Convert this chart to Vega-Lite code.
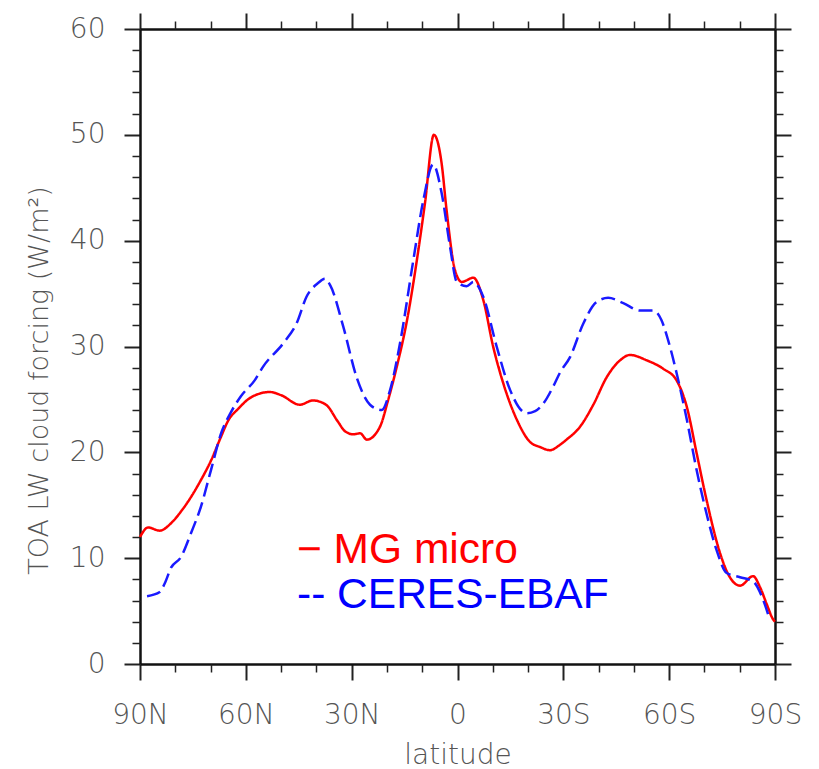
{
  "$schema": "https://vega.github.io/schema/vega-lite/v6.json",
  "width": 635,
  "height": 635,
  "autosize": "none",
  "padding": {"left": 140, "top": 29, "right": 44, "bottom": 105},
  "background": "white",
  "config": {
    "view": {"stroke": null},
    "axis": {"grid": false, "domainColor": "#111111", "domainWidth": 2.5, "tickColor": "#222222", "labelFlush": false, "labelOverlap": false}
  },
  "resolve": {"axis": {"x": "independent", "y": "independent"}},
  "layer": [
    {
      "data": {
        "values": [
          {"series": "MG micro", "lat": 90, "value": 12.0},
          {"series": "MG micro", "lat": 87.7, "value": 12.9},
          {"series": "MG micro", "lat": 84.4, "value": 12.6},
          {"series": "MG micro", "lat": 81.2, "value": 13.3},
          {"series": "MG micro", "lat": 78.4, "value": 14.4},
          {"series": "MG micro", "lat": 75.5, "value": 15.8},
          {"series": "MG micro", "lat": 72.7, "value": 17.4},
          {"series": "MG micro", "lat": 69.9, "value": 19.2},
          {"series": "MG micro", "lat": 67, "value": 21.5},
          {"series": "MG micro", "lat": 65, "value": 23.0},
          {"series": "MG micro", "lat": 62.2, "value": 24.1},
          {"series": "MG micro", "lat": 58.5, "value": 25.2},
          {"series": "MG micro", "lat": 53.2, "value": 25.7},
          {"series": "MG micro", "lat": 50, "value": 25.4},
          {"series": "MG micro", "lat": 44.7, "value": 24.5},
          {"series": "MG micro", "lat": 41, "value": 24.9},
          {"series": "MG micro", "lat": 37.3, "value": 24.5},
          {"series": "MG micro", "lat": 33.9, "value": 22.9},
          {"series": "MG micro", "lat": 31.9, "value": 22.0},
          {"series": "MG micro", "lat": 29.5, "value": 21.7},
          {"series": "MG micro", "lat": 27.6, "value": 21.8},
          {"series": "MG micro", "lat": 25.7, "value": 21.2},
          {"series": "MG micro", "lat": 22, "value": 22.4},
          {"series": "MG micro", "lat": 19.7, "value": 24.9},
          {"series": "MG micro", "lat": 17.2, "value": 28.1},
          {"series": "MG micro", "lat": 14.3, "value": 32.5},
          {"series": "MG micro", "lat": 11.5, "value": 38.2},
          {"series": "MG micro", "lat": 9.2, "value": 43.6},
          {"series": "MG micro", "lat": 6.7, "value": 50.0},
          {"series": "MG micro", "lat": 4.5, "value": 47.3},
          {"series": "MG micro", "lat": 3.1, "value": 42.9},
          {"series": "MG micro", "lat": 0.7, "value": 37.2},
          {"series": "MG micro", "lat": -1.2, "value": 36.1},
          {"series": "MG micro", "lat": -4.5, "value": 36.5},
          {"series": "MG micro", "lat": -7.3, "value": 34.4},
          {"series": "MG micro", "lat": -10.1, "value": 30.0},
          {"series": "MG micro", "lat": -12.9, "value": 26.6},
          {"series": "MG micro", "lat": -16.8, "value": 23.1},
          {"series": "MG micro", "lat": -20.5, "value": 21.0},
          {"series": "MG micro", "lat": -23.4, "value": 20.5},
          {"series": "MG micro", "lat": -26.2, "value": 20.2},
          {"series": "MG micro", "lat": -29, "value": 20.7},
          {"series": "MG micro", "lat": -30.9, "value": 21.2},
          {"series": "MG micro", "lat": -34.7, "value": 22.4},
          {"series": "MG micro", "lat": -38.5, "value": 24.5},
          {"series": "MG micro", "lat": -42.3, "value": 27.1},
          {"series": "MG micro", "lat": -46.1, "value": 28.7},
          {"series": "MG micro", "lat": -48.9, "value": 29.2},
          {"series": "MG micro", "lat": -53.6, "value": 28.7},
          {"series": "MG micro", "lat": -58.3, "value": 27.9},
          {"series": "MG micro", "lat": -62.1, "value": 26.8},
          {"series": "MG micro", "lat": -65, "value": 24.3},
          {"series": "MG micro", "lat": -67.8, "value": 19.9},
          {"series": "MG micro", "lat": -70.6, "value": 15.5},
          {"series": "MG micro", "lat": -74.4, "value": 10.5},
          {"series": "MG micro", "lat": -77.2, "value": 8.2},
          {"series": "MG micro", "lat": -80.1, "value": 7.4},
          {"series": "MG micro", "lat": -83.8, "value": 8.3},
          {"series": "MG micro", "lat": -85.7, "value": 7.3},
          {"series": "MG micro", "lat": -87.6, "value": 5.7},
          {"series": "MG micro", "lat": -89.5, "value": 4.2},
          {"series": "MG micro", "lat": -90, "value": 4.0},
          {"series": "CERES-EBAF", "lat": 88, "value": 6.4},
          {"series": "CERES-EBAF", "lat": 84.4, "value": 6.8},
          {"series": "CERES-EBAF", "lat": 83, "value": 7.6},
          {"series": "CERES-EBAF", "lat": 81.2, "value": 9.1},
          {"series": "CERES-EBAF", "lat": 78.4, "value": 10.1},
          {"series": "CERES-EBAF", "lat": 75.5, "value": 12.4},
          {"series": "CERES-EBAF", "lat": 72.7, "value": 14.9},
          {"series": "CERES-EBAF", "lat": 69.9, "value": 18.3},
          {"series": "CERES-EBAF", "lat": 67, "value": 21.8},
          {"series": "CERES-EBAF", "lat": 64.2, "value": 23.8},
          {"series": "CERES-EBAF", "lat": 61.4, "value": 25.3},
          {"series": "CERES-EBAF", "lat": 57.5, "value": 26.8},
          {"series": "CERES-EBAF", "lat": 55.1, "value": 28.1},
          {"series": "CERES-EBAF", "lat": 49.4, "value": 30.3},
          {"series": "CERES-EBAF", "lat": 45.6, "value": 32.2},
          {"series": "CERES-EBAF", "lat": 42.8, "value": 34.7},
          {"series": "CERES-EBAF", "lat": 39.5, "value": 36.0},
          {"series": "CERES-EBAF", "lat": 37.6, "value": 36.4},
          {"series": "CERES-EBAF", "lat": 36.1, "value": 35.8},
          {"series": "CERES-EBAF", "lat": 32.4, "value": 31.9},
          {"series": "CERES-EBAF", "lat": 28.6, "value": 27.1},
          {"series": "CERES-EBAF", "lat": 24.8, "value": 24.5},
          {"series": "CERES-EBAF", "lat": 21.5, "value": 24.0},
          {"series": "CERES-EBAF", "lat": 19.1, "value": 25.9},
          {"series": "CERES-EBAF", "lat": 16.3, "value": 30.3},
          {"series": "CERES-EBAF", "lat": 12.5, "value": 38.2},
          {"series": "CERES-EBAF", "lat": 9.7, "value": 43.8},
          {"series": "CERES-EBAF", "lat": 6.9, "value": 47.2},
          {"series": "CERES-EBAF", "lat": 4.5, "value": 44.5},
          {"series": "CERES-EBAF", "lat": 2.1, "value": 39.4},
          {"series": "CERES-EBAF", "lat": 0.2, "value": 36.1},
          {"series": "CERES-EBAF", "lat": -2.6, "value": 35.7},
          {"series": "CERES-EBAF", "lat": -4.5, "value": 36.1},
          {"series": "CERES-EBAF", "lat": -7.3, "value": 34.7},
          {"series": "CERES-EBAF", "lat": -11.1, "value": 30.0},
          {"series": "CERES-EBAF", "lat": -14.9, "value": 25.9},
          {"series": "CERES-EBAF", "lat": -19.6, "value": 23.7},
          {"series": "CERES-EBAF", "lat": -22, "value": 23.9},
          {"series": "CERES-EBAF", "lat": -24.3, "value": 24.6},
          {"series": "CERES-EBAF", "lat": -27.1, "value": 26.2},
          {"series": "CERES-EBAF", "lat": -29, "value": 27.5},
          {"series": "CERES-EBAF", "lat": -31.9, "value": 29.0},
          {"series": "CERES-EBAF", "lat": -35.7, "value": 32.2},
          {"series": "CERES-EBAF", "lat": -39.4, "value": 34.2},
          {"series": "CERES-EBAF", "lat": -42.7, "value": 34.6},
          {"series": "CERES-EBAF", "lat": -47, "value": 34.1},
          {"series": "CERES-EBAF", "lat": -51.7, "value": 33.4},
          {"series": "CERES-EBAF", "lat": -55.5, "value": 33.4},
          {"series": "CERES-EBAF", "lat": -57.8, "value": 32.5},
          {"series": "CERES-EBAF", "lat": -59.7, "value": 30.6},
          {"series": "CERES-EBAF", "lat": -62.1, "value": 27.5},
          {"series": "CERES-EBAF", "lat": -65, "value": 23.1},
          {"series": "CERES-EBAF", "lat": -67.8, "value": 18.3},
          {"series": "CERES-EBAF", "lat": -70.6, "value": 14.2},
          {"series": "CERES-EBAF", "lat": -73.4, "value": 10.8},
          {"series": "CERES-EBAF", "lat": -76.3, "value": 8.6},
          {"series": "CERES-EBAF", "lat": -80.1, "value": 8.2},
          {"series": "CERES-EBAF", "lat": -83.8, "value": 7.8},
          {"series": "CERES-EBAF", "lat": -86.7, "value": 6.0},
          {"series": "CERES-EBAF", "lat": -88.5, "value": 4.2}
        ]
      },
      "mark": {"type": "line", "interpolate": "monotone", "strokeWidth": 2.5},
      "encoding": {
        "x": {
          "field": "lat", "type": "quantitative",
          "scale": {"domain": [-90, 90], "reverse": true, "nice": false, "zero": false},
          "axis": {
            "orient": "bottom", "values": [-90, -60, -30, 0, 30, 60, 90],
            "tickSize": 16, "tickWidth": 2,
            "labelExpr": "datum.value > 0 ? datum.value + 'N' : (datum.value < 0 ? (-datum.value) + 'S' : '0')",
            "labelFont": "DejaVu Sans", "labelFontSize": 28, "labelFontWeight": 300, "labelColor": "#555555",
            "labelBaseline": "alphabetic", "labelPadding": 43,
            "title": "latitude", "titleFont": "DejaVu Sans", "titleFontSize": 28,
            "titleFontWeight": 300, "titleColor": "#555555",
            "titleBaseline": "alphabetic", "titleY": 99
          }
        },
        "y": {
          "field": "value", "type": "quantitative",
          "scale": {"domain": [0, 60], "nice": false, "zero": false},
          "axis": {
            "orient": "left", "values": [0, 10, 20, 30, 40, 50, 60],
            "tickSize": 16, "tickWidth": 2,
            "labelFont": "DejaVu Sans", "labelFontSize": 28, "labelFontWeight": 300, "labelColor": "#555555",
            "labelPadding": 19, "labelBaseline": "middle",
            "title": "TOA LW cloud forcing (W/m²)", "titleFont": "DejaVu Sans", "titleFontSize": 27,
            "titleFontWeight": 300, "titleColor": "#555555",
            "titleBaseline": "alphabetic", "titleAngle": 270, "titleX": -93, "titleY": 351
          }
        },
        "color": {
          "field": "series", "type": "nominal",
          "scale": {"domain": ["MG micro", "CERES-EBAF"], "range": ["#ff0000", "#1a1aff"]},
          "legend": null
        },
        "strokeDash": {
          "field": "series", "type": "nominal",
          "scale": {"domain": ["MG micro", "CERES-EBAF"], "range": [[1, 0], [14, 6]]},
          "legend": null
        },
        "order": {"field": "lat", "sort": "descending"}
      }
    },
    {
      "data": {"values": [{"lat": 0, "value": 0}]},
      "mark": {"type": "point", "opacity": 0},
      "encoding": {
        "x": {"field": "lat", "type": "quantitative", "axis": {"orient": "bottom", "values": [-80, -70, -50, -40, -20, -10, 10, 20, 40, 50, 70, 80], "tickSize": 8, "tickWidth": 1.5, "labels": false, "title": null, "domain": false}},
        "y": {"field": "value", "type": "quantitative", "axis": {"orient": "left", "values": [2, 4, 6, 8, 12, 14, 16, 18, 22, 24, 26, 28, 32, 34, 36, 38, 42, 44, 46, 48, 52, 54, 56, 58], "tickSize": 8, "tickWidth": 1.5, "labels": false, "title": null, "domain": false}}
      }
    },
    {
      "data": {"values": [{"lat": 0, "value": 0}]},
      "mark": {"type": "point", "opacity": 0},
      "encoding": {
        "x": {"field": "lat", "type": "quantitative", "axis": {"orient": "top", "values": [-90, -60, -30, 0, 30, 60, 90], "tickSize": 16, "tickWidth": 2, "labels": false, "title": null}},
        "y": {"field": "value", "type": "quantitative", "axis": {"orient": "right", "values": [0, 10, 20, 30, 40, 50, 60], "tickSize": 16, "tickWidth": 2, "labels": false, "title": null}}
      }
    },
    {
      "data": {"values": [{"lat": 0, "value": 0}]},
      "mark": {"type": "point", "opacity": 0},
      "encoding": {
        "x": {"field": "lat", "type": "quantitative", "axis": {"orient": "top", "values": [-80, -70, -50, -40, -20, -10, 10, 20, 40, 50, 70, 80], "tickSize": 8, "tickWidth": 1.5, "labels": false, "title": null, "domain": false}},
        "y": {"field": "value", "type": "quantitative", "axis": {"orient": "right", "values": [2, 4, 6, 8, 12, 14, 16, 18, 22, 24, 26, 28, 32, 34, 36, 38, 42, 44, 46, 48, 52, 54, 56, 58], "tickSize": 8, "tickWidth": 1.5, "labels": false, "title": null, "domain": false}}
      }
    },
    {
      "data": {"values": [{}]},
      "mark": {"type": "text", "text": "− MG micro", "font": "Liberation Sans", "fontSize": 42.5, "color": "#ff0000", "align": "left", "baseline": "alphabetic"},
      "encoding": {
        "x": {"datum": 45.5, "type": "quantitative", "axis": null},
        "y": {"datum": 9.54, "type": "quantitative", "axis": null}
      }
    },
    {
      "data": {"values": [{}]},
      "mark": {"type": "text", "text": "-- CERES-EBAF", "font": "Liberation Sans", "fontSize": 42.5, "color": "#0000ff", "align": "left", "baseline": "alphabetic"},
      "encoding": {
        "x": {"datum": 45.5, "type": "quantitative", "axis": null},
        "y": {"datum": 5.29, "type": "quantitative", "axis": null}
      }
    }
  ]
}
